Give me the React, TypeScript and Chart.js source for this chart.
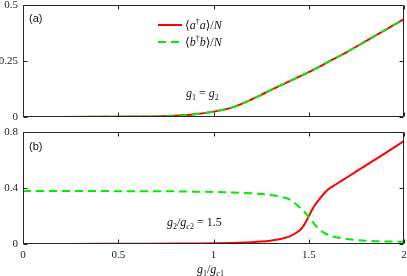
import React, { useEffect, useRef } from "react";
import { Chart, registerables } from "chart.js";
Chart.register(...registerables);

// g1/gc1 grid
const gValues = [0, 0.2, 0.4, 0.6, 0.8, 0.9, 1.0, 1.1, 1.2, 1.25, 1.3, 1.35, 1.4, 1.45, 1.475, 1.5, 1.525, 1.55, 1.575, 1.6, 1.65, 1.7, 1.8, 1.9, 2.0];
// (a) g1 = g2
const topA = [0, 0.0002, 0.0008, 0.002, 0.006, 0.012, 0.024, 0.043, 0.078, 0.099, 0.12, 0.14, 0.16, 0.18, 0.19, 0.2, 0.211, 0.222, 0.233, 0.245, 0.267, 0.29, 0.339, 0.388, 0.437];
const topB = [0, 0.0002, 0.0008, 0.002, 0.006, 0.012, 0.024, 0.043, 0.078, 0.099, 0.12, 0.14, 0.16, 0.18, 0.19, 0.2, 0.211, 0.222, 0.233, 0.245, 0.267, 0.29, 0.339, 0.388, 0.437];
// (b) g2/gc2 = 1.5
const botA = [0, 0.0005, 0.001, 0.002, 0.003, 0.004, 0.005, 0.008, 0.013, 0.017, 0.024, 0.035, 0.055, 0.095, 0.135, 0.198, 0.262, 0.31, 0.352, 0.388, 0.432, 0.475, 0.562, 0.648, 0.735];
const botB = [0.379, 0.379, 0.378, 0.377, 0.376, 0.374, 0.372, 0.368, 0.362, 0.357, 0.35, 0.338, 0.318, 0.265, 0.232, 0.192, 0.15, 0.11, 0.085, 0.066, 0.046, 0.036, 0.023, 0.018, 0.016];

const xTicks = [0, 0.5, 1, 1.5, 2];
const xTickLabels = ["0", "0.5", "1", "1.5", "2"];
const topYTicks = [0, 0.25, 0.5];
const topYTickLabels = ["0", "0.25", "0.5"];
const botYTicks = [0, 0.4, 0.8];
const botYTickLabels = ["0", "0.4", "0.8"];

const RED = "#ff0000";
const GREEN = "#00ee00";
const TICK_FONT = { family: "'Liberation Serif', 'DejaVu Serif', serif", size: 11 };

const framePlugin = {
  id: "frame",
  afterDraw(chart: any) {
    const { ctx, chartArea: a, scales } = chart;
    const L = Math.round(a.left) + 0.5;
    const R = Math.round(a.right) - 0.5;
    const T = Math.round(a.top) + 0.5;
    const B = Math.round(a.bottom) - 0.5;
    ctx.save();
    ctx.strokeStyle = "#262626";
    ctx.lineWidth = 1;
    ctx.beginPath();
    ctx.rect(L, T, R - L, B - T);
    const tl = 4;
    for (const v of xTicks) {
      const px = Math.round(scales.x.getPixelForValue(v)) + 0.5;
      ctx.moveTo(px, B);
      ctx.lineTo(px, B - tl);
      ctx.moveTo(px, T);
      ctx.lineTo(px, T + tl);
    }
    const yt: number[] = chart.options.plugins.frame.yTicks;
    for (const v of yt) {
      const py = Math.round(scales.y.getPixelForValue(v)) + 0.5;
      ctx.moveTo(L, py);
      ctx.lineTo(L + tl, py);
      ctx.moveTo(R, py);
      ctx.lineTo(R - tl, py);
    }
    ctx.stroke();
    ctx.restore();
  },
};

function makeConfig(a: number[], b: number[], yMax: number, yTicks: number[], yLabels: string[], showX: boolean, padTop: number, padBottom: number, xHeight: number) {
  return {
    type: "line" as const,
    data: {
      datasets: [
        {
          data: gValues.map((g, i) => ({ x: g, y: a[i] })),
          borderColor: RED,
          borderWidth: 2,
          pointRadius: 0,
          cubicInterpolationMode: "monotone",
          order: 2,
        },
        {
          data: gValues.map((g, i) => ({ x: g, y: b[i] })),
          borderColor: GREEN,
          borderWidth: 2,
          borderDash: [8, 5],
          pointRadius: 0,
          cubicInterpolationMode: "monotone",
          order: 1,
        },
      ],
    },
    options: {
      animation: false,
      responsive: false,
      maintainAspectRatio: false,
      devicePixelRatio: 1,
      layout: { padding: { left: 0, right: 3, top: padTop, bottom: padBottom } },
      plugins: {
        legend: { display: false },
        tooltip: { enabled: false },
        frame: { yTicks },
      },
      scales: {
        x: {
          type: "linear",
          min: 0,
          max: 2,
          grid: { display: false, drawTicks: false },
          border: { display: false },
          ticks: {
            display: showX,
            padding: 5,
            font: TICK_FONT,
            color: "#222",
            maxRotation: 0,
            callback: (v: number) => {
              const i = xTicks.indexOf(v);
              return i >= 0 ? xTickLabels[i] : "";
            },
          },
          afterBuildTicks: (s: any) => {
            s.ticks = xTicks.map((v) => ({ value: v }));
          },
          afterFit: (s: any) => {
            s.height = xHeight;
            s.paddingLeft = 0;
            s.paddingRight = 0;
          },
        },
        y: {
          type: "linear",
          min: 0,
          max: yMax,
          grid: { display: false, drawTicks: false },
          border: { display: false },
          ticks: {
            padding: 5,
            font: TICK_FONT,
            color: "#222",
            callback: (v: number) => {
              const i = yTicks.indexOf(v);
              return i >= 0 ? yLabels[i] : "";
            },
          },
          afterBuildTicks: (s: any) => {
            s.ticks = yTicks.map((v) => ({ value: v }));
          },
          afterFit: (s: any) => {
            s.width = 23;
            s.paddingTop = 0;
            s.paddingBottom = 0;
          },
        },
      },
    },
    plugins: [framePlugin],
  };
}

const serif = "'Liberation Serif', 'DejaVu Serif', serif";
const sub: React.CSSProperties = { fontSize: 8, fontStyle: "normal", position: "relative", top: 3 };
const subI: React.CSSProperties = { fontSize: 8, fontStyle: "italic", position: "relative", top: 3 };
const sup: React.CSSProperties = { fontSize: 8, fontStyle: "normal", position: "relative", top: -5 };

function Txt(props: { left: number; top: number; children: any; font?: string; size?: number }) {
  return (
    <div
      style={{
        position: "absolute",
        left: props.left,
        top: props.top,
        fontFamily: props.font || serif,
        fontSize: props.size || 12,
        lineHeight: "14px",
        whiteSpace: "nowrap",
        color: "#111",
      }}
    >
      {props.children}
    </div>
  );
}

export default function App() {
  const topRef = useRef<HTMLCanvasElement>(null);
  const botRef = useRef<HTMLCanvasElement>(null);

  useEffect(() => {
    const c1 = new Chart(topRef.current as any, makeConfig(topA, topB, 0.5, topYTicks, topYTickLabels, false, 5, 7, 0) as any);
    const c2 = new Chart(botRef.current as any, makeConfig(botA, botB, 0.8, botYTicks, botYTickLabels, true, 8, 0, 32) as any);
    return () => {
      c1.destroy();
      c2.destroy();
    };
  }, []);

  return (
    <div style={{ position: "relative", width: 407, height: 276, background: "#fff" }}>
      <style>{"body{margin:0}"}</style>
      <canvas ref={topRef} width={407} height={124} style={{ position: "absolute", left: 0, top: 0, width: 407, height: 124 }} />
      <canvas ref={botRef} width={407} height={152} style={{ position: "absolute", left: 0, top: 124, width: 407, height: 152 }} />

      <Txt left={29} top={11} font="'Liberation Sans', Arial, sans-serif" size={11}>(a)</Txt>
      <Txt left={29} top={139} font="'Liberation Sans', Arial, sans-serif" size={11}>(b)</Txt>

      <svg style={{ position: "absolute", left: 0, top: 0 }} width={407} height={60}>
        <line x1={158} y1={25} x2={182} y2={25} stroke={RED} strokeWidth={2} />
        <line x1={158} y1={42} x2={182} y2={42} stroke={GREEN} strokeWidth={2} strokeDasharray="8 5" />
      </svg>
      <Txt left={185} top={18}>
        ⟨<i>a</i><span style={sup}>†</span><i>a</i>⟩/<i>N</i>
      </Txt>
      <Txt left={185} top={35}>
        ⟨<i>b</i><span style={sup}>†</span><i>b</i>⟩/<i>N</i>
      </Txt>

      <Txt left={186} top={86}>
        <i>g</i><span style={sub}>1</span> = <i>g</i><span style={sub}>2</span>
      </Txt>
      <Txt left={167} top={215}>
        <i>g</i><span style={sub}>2</span>/<i>g</i><span style={subI}>c</span><span style={sub}>2</span> = 1.5
      </Txt>
      <Txt left={197} top={262}>
        <i>g</i><span style={sub}>1</span>/<i>g</i><span style={subI}>c</span><span style={sub}>1</span>
      </Txt>
    </div>
  );
}
